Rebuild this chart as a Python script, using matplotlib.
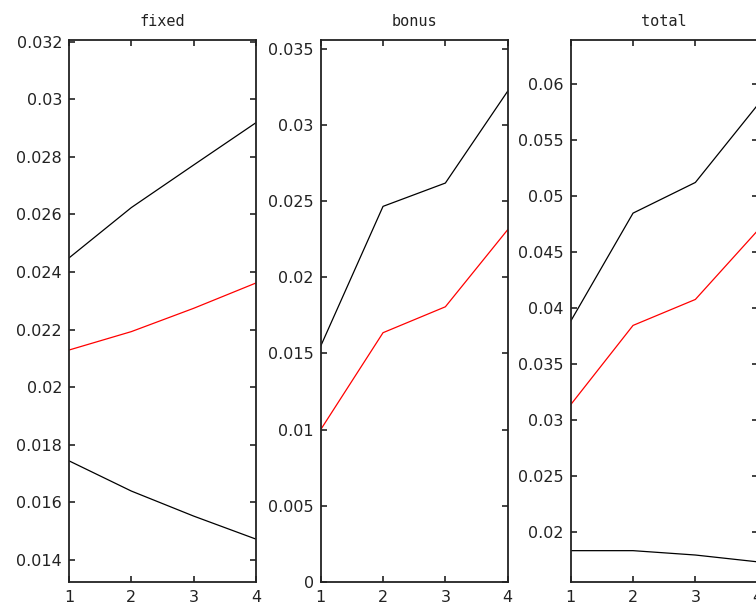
import matplotlib
matplotlib.use("Agg")
import matplotlib.pyplot as plt

x = [1, 2, 3, 4]

titles = ["fixed", "bonus", "total"]

fixed_upper = [0.02449, 0.02624, 0.02772, 0.02919]
fixed_mid = [0.02129, 0.02193, 0.02274, 0.02362]
fixed_lower = [0.01744, 0.01639, 0.01552, 0.01472]

bonus_upper = [0.01548, 0.02465, 0.02618, 0.03221]
bonus_mid = [0.01000, 0.01636, 0.01806, 0.02312]

total_upper = [0.0388, 0.04845, 0.05119, 0.05812]
total_mid = [0.03134, 0.03842, 0.04074, 0.04690]
total_lower = [0.0183, 0.0183, 0.01791, 0.0173]

yticks_fixed = [0.014, 0.016, 0.018, 0.02, 0.022, 0.024, 0.026, 0.028, 0.03, 0.032]
yticklabels_fixed = ["0.014", "0.016", "0.018", "0.02", "0.022", "0.024", "0.026", "0.028", "0.03", "0.032"]
yticks_bonus = [0, 0.005, 0.01, 0.015, 0.02, 0.025, 0.03, 0.035]
yticklabels_bonus = ["0", "0.005", "0.01", "0.015", "0.02", "0.025", "0.03", "0.035"]
yticks_total = [0.02, 0.025, 0.03, 0.035, 0.04, 0.045, 0.05, 0.055, 0.06]
yticklabels_total = ["0.02", "0.025", "0.03", "0.035", "0.04", "0.045", "0.05", "0.055", "0.06"]
xticklabels = ["1", "2", "3", "4"]

ylims = [(0.01323, 0.03208), (0.0, 0.0356), (0.0155, 0.06396)]

W, H = 756, 606
fig = plt.figure(figsize=(W / 100, H / 100), dpi=100)
plt.rcParams['font.family'] = ['DejaVu Sans']

lefts = [69, 320.7, 570.7]
width = 187
top, bottom = 39.5, 582

series = [
    [(fixed_upper, 'black'), (fixed_mid, 'red'), (fixed_lower, 'black')],
    [(bonus_upper, 'black'), (bonus_mid, 'red')],
    [(total_upper, 'black'), (total_mid, 'red'), (total_lower, 'black')],
]
yt = [(yticks_fixed, yticklabels_fixed), (yticks_bonus, yticklabels_bonus), (yticks_total, yticklabels_total)]

for i in range(3):
    ax = fig.add_axes([lefts[i] / W, 1 - bottom / H, width / W, (bottom - top) / H])
    for ys, c in series[i]:
        ax.plot(x, ys, color=c, lw=0.9)
    ax.set_xlim(1, 4)
    ax.set_ylim(*ylims[i])
    ax.set_xticks(x)
    ax.set_xticklabels(xticklabels)
    ax.set_yticks(yt[i][0])
    ax.set_yticklabels(yt[i][1])
    ax.tick_params(direction='in', top=True, right=True, length=4, width=1.2,
                   labelsize=11.5, colors='#222222', pad=5)
    ax.tick_params(axis='x', pad=6)
    for s in ax.spines.values():
        s.set_linewidth(1.3)
        s.set_color('#222222')
    ax.set_title(titles[i], fontsize=11, color='#222222', pad=10,
                 family=['DejaVu Sans Mono'])

fig.savefig("out.png", dpi=100)
